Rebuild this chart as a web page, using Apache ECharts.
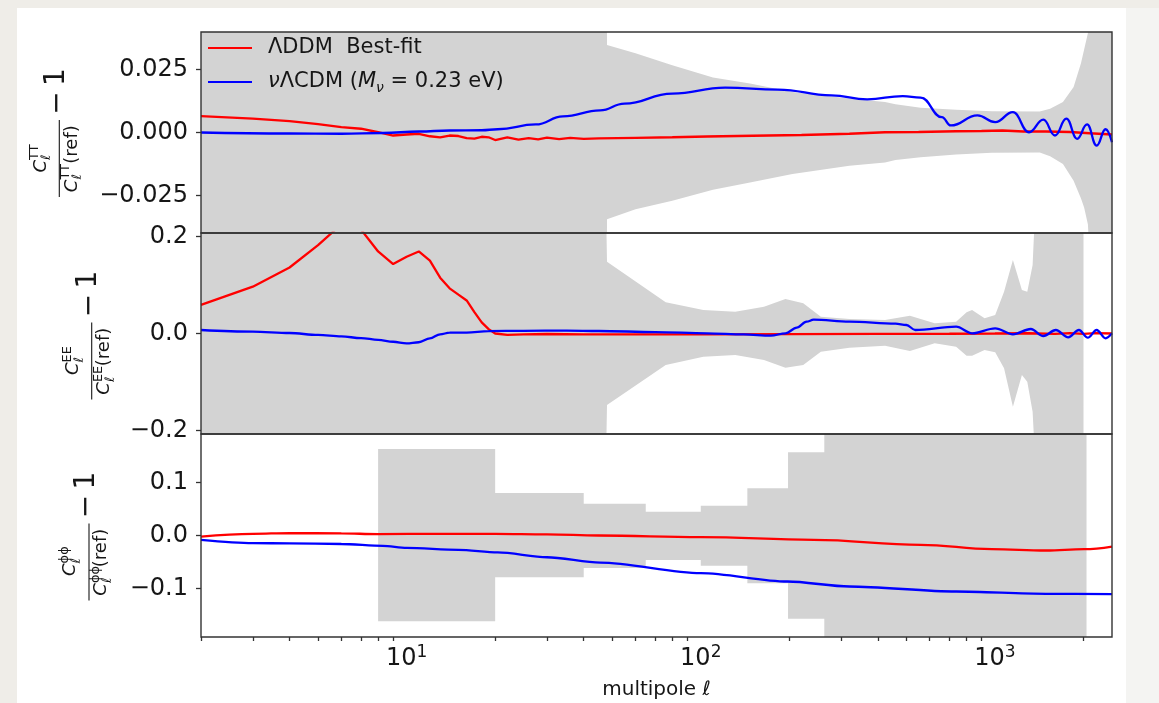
<!DOCTYPE html>
<html>
<head>
<meta charset="utf-8">
<script src="https://cdn.jsdelivr.net/npm/echarts@6/dist/echarts.min.js"></script>
<style>
  html, body { margin: 0; padding: 0; width: 1159px; height: 703px; overflow: hidden; background: #efede8; }
  #side { position: absolute; left: 1126px; top: 8px; width: 33px; height: 695px; background: #f4f4f2; }
  #paper { position: absolute; left: 17px; top: 8px; width: 1109px; height: 695px; background: #fff; }
  #chart { position: absolute; left: 0; top: 0; width: 1159px; height: 703px; }
</style>
</head>
<body>
<div id="side"></div>
<div id="paper"></div>
<div id="chart"></div>
<script>
// ---- data ----
const NAME_A = 'ΛDDM  Best-fit';
const NAME_B = 'νΛCDM (Mν = 0.23 eV)';

// TT panel
const ttBandEll = [2, 47.5, 48, 60, 80, 110, 147, 205, 320, 423, 459, 559, 738, 975, 1420, 1540, 1703, 1851, 1960, 2010, 2070, 2150, 2500];
const ttBandUp = [0.2, 0.2, 0.0348, 0.0315, 0.0268, 0.0219, 0.0195, 0.0161, 0.0135, 0.0121, 0.0112, 0.0099, 0.0091, 0.0085, 0.0084, 0.0095, 0.0121, 0.0181, 0.0275, 0.033, 0.0395, 0.07, 0.2];
const ttBandLo = [-0.2, -0.2, -0.0345, -0.0305, -0.0272, -0.0228, -0.0199, -0.0165, -0.0132, -0.0119, -0.0109, -0.0099, -0.0088, -0.0081, -0.0080, -0.0095, -0.0125, -0.0192, -0.0262, -0.0299, -0.0365, -0.07, -0.2];
const ttRedEll = [2, 3, 4, 5, 6, 7, 8, 9, 10, 11, 12, 13, 14, 15, 16, 17, 18, 19, 20, 22, 24, 26, 28, 30, 33, 36, 40, 45, 60, 80, 105, 150, 220, 320, 423, 550, 738, 900, 1061, 1250, 1490, 1800, 2100, 2500];
const ttRedVal = [0.0065, 0.0055, 0.0045, 0.0033, 0.0021, 0.0015, 0.0001, -0.0012, -0.0008, -0.0005, -0.0015, -0.0019, -0.0012, -0.0014, -0.0022, -0.0024, -0.0017, -0.0019, -0.0030, -0.0019, -0.0028, -0.0022, -0.0027, -0.0020, -0.0026, -0.0021, -0.0025, -0.0023, -0.0021, -0.0019, -0.0016, -0.0013, -0.0010, -0.0005, 0.0001, 0.0002, 0.0005, 0.0006, 0.0008, 0.0004, 0.0004, 0.0002, -0.0003, -0.0008];
const ttBlueEll = [2, 4, 6, 8.3, 11, 14, 18, 20.4, 27.5, 34, 45.5, 55, 80, 121, 183, 278, 368, 486, 559, 660, 708, 872, 1002, 1151, 1306, 1461, 1600, 1749, 1903, 2057, 2217, 2377, 2500];
const ttBlueVal = [0.0, -0.0004, -0.0005, -0.0002, 0.0004, 0.0008, 0.0009, 0.0013, 0.0032, 0.0064, 0.0088, 0.0115, 0.0155, 0.0179, 0.0171, 0.0148, 0.0132, 0.0145, 0.0139, 0.0061, 0.0028, 0.0068, 0.0041, 0.0081, 0.0001, 0.0051, -0.0012, 0.0055, -0.0025, 0.0032, -0.0052, 0.0013, -0.0039];

// EE panel
const eeBandEll = [2, 47.5, 48, 76, 102, 131, 164, 194, 223, 256, 320, 423, 514, 624, 738, 801, 836, 922, 1002, 1074, 1151, 1235, 1288, 1343, 1380, 2000];
const eeBandUp = [0.3, 0.3, 0.148, 0.0643, 0.0485, 0.045, 0.0553, 0.0711, 0.0623, 0.0346, 0.0299, 0.0278, 0.0367, 0.021, 0.0243, 0.0437, 0.0485, 0.0313, 0.0381, 0.0862, 0.1516, 0.0897, 0.0862, 0.1412, 0.3, 0.3];
const eeBandLo = [-0.3, -0.3, -0.1474, -0.065, -0.0478, -0.0443, -0.0546, -0.0705, -0.065, -0.0375, -0.0293, -0.0252, -0.0361, -0.0202, -0.0272, -0.0458, -0.0458, -0.034, -0.0388, -0.0718, -0.151, -0.0856, -0.0994, -0.161, -0.3, -0.3];
const eeRedEll = [2, 3, 4, 5, 6, 7, 8, 9, 10, 11, 12, 13, 14, 15, 16, 17, 18, 19, 20, 22, 25, 30, 40, 60, 100, 200, 400, 700, 1000, 1300, 1600, 1800, 2000, 2200, 2500];
const eeRedVal = [0.0588, 0.0965, 0.136, 0.182, 0.225, 0.214, 0.169, 0.143, 0.158, 0.169, 0.150, 0.115, 0.093, 0.080, 0.068, 0.044, 0.023, 0.009, 0.0, -0.003, -0.002, -0.001, -0.002, -0.0017, -0.0017, -0.0012, -0.0008, -0.0005, 0.0, 0.0005, -0.0008, 0.0008, -0.0008, 0.0008, 0.0];
const eeBlueEll = [2, 3, 4, 5, 6, 7, 8, 9, 10, 11, 12, 13, 14, 16, 19, 25, 35, 45, 70, 105, 140, 173, 194, 212, 229, 242, 320, 459, 500, 536, 738, 836, 1002, 1151, 1324, 1461, 1610, 1775, 1930, 2069, 2217, 2377, 2500];
const eeBlueVal = [0.0072, 0.0038, 0.001, -0.003, -0.006, -0.0095, -0.013, -0.017, -0.0202, -0.018, -0.010, -0.0017, 0.0017, 0.002, 0.005, 0.0055, 0.006, 0.0052, 0.003, 0.0004, -0.002, -0.0045, 0.0004, 0.012, 0.0243, 0.0285, 0.0243, 0.0202, 0.0175, 0.0072, 0.014, 0.0004, 0.0107, -0.0017, 0.0093, -0.0052, 0.0072, -0.0078, 0.0072, -0.0087, 0.0072, -0.0099, 0.0004];

// phi-phi panel (binned band)
const ppBinLo = [8, 20, 40, 65, 100, 144, 198, 263];
const ppBinHi = [20, 40, 65, 100, 144, 198, 263, 2048];
const ppBinUp = [0.163, 0.080, 0.060, 0.045, 0.056, 0.089, 0.157, 0.5];
const ppBinDown = [-0.162, -0.079, -0.0615, -0.046, -0.057, -0.090, -0.157, -0.5];
const ppRedEll = [2, 3, 4, 6, 8, 13, 20, 30, 45, 100, 242, 559, 975, 1490, 2010, 2500];
const ppRedVal = [-0.002, 0.0032, 0.0045, 0.004, 0.0026, 0.0032, 0.003, 0.002, 0.0, -0.003, -0.0081, -0.0175, -0.0257, -0.0283, -0.0257, -0.0208];
const ppBlueEll = [2, 3, 4, 6, 8.3, 10, 15, 20.4, 30, 45.5, 100, 197, 320, 738, 1490, 2500];
const ppBlueVal = [-0.0081, -0.0143, -0.015, -0.016, -0.0194, -0.0235, -0.027, -0.032, -0.041, -0.051, -0.071, -0.0868, -0.0962, -0.1057, -0.110, -0.1106];

// ticks
const xMajor = [10, 100, 1000];
const xMajorExp = ['1', '2', '3'];
const xMinor = [2, 3, 4, 5, 6, 7, 8, 9, 20, 30, 40, 50, 60, 70, 80, 90, 200, 300, 400, 500, 600, 700, 800, 900, 2000];
const ttTicks = [-0.025, 0, 0.025];
const ttTickText = ['−0.025', '0.000', '0.025'];
const eeTicks = [-0.2, 0, 0.2];
const eeTickText = ['−0.2', '0.0', '0.2'];
const ppTicks = [-0.1, 0, 0.1];
const ppTickText = ['−0.1', '0.0', '0.1'];

// ---- chart ----
const FONT = 'DejaVu Sans';
const INK = '#161616';
const BAND = '#d3d3d3';
const RED = '#ff0000';
const BLUE = '#0000ff';

const chart = echarts.init(document.getElementById('chart'), null, { renderer: 'canvas' });

const pairs = (xs, ys) => xs.map((x, i) => [x, ys[i]]);
const pick = (vals, texts) => v => {
  let best = 0;
  vals.forEach((t, i) => { if (Math.abs(t - v) < Math.abs(vals[best] - v)) best = i; });
  return texts[best];
};

function bandSeries(idx, ells, ups, los) {
  return {
    type: 'custom', name: 'band' + idx, xAxisIndex: idx, yAxisIndex: idx,
    silent: true, z: 1, data: [[ells[0], 0]],
    renderItem: function (params, api) {
      const pts = [];
      for (let i = 0; i < ells.length; i++) pts.push(api.coord([ells[i], ups[i]]));
      for (let i = ells.length - 1; i >= 0; i--) pts.push(api.coord([ells[i], los[i]]));
      const cs = params.coordSys;
      return {
        type: 'polygon', shape: { points: pts }, style: { fill: BAND },
        clipPath: { type: 'rect', shape: { x: cs.x, y: cs.y, width: cs.width, height: cs.height } }
      };
    }
  };
}

function stepBandSeries(idx, lo, hi, ups, downs) {
  return {
    type: 'custom', name: 'bins', xAxisIndex: idx, yAxisIndex: idx,
    silent: true, z: 1, data: [[lo[0], 0]],
    renderItem: function (params, api) {
      const pts = [];
      for (let i = 0; i < lo.length; i++) {
        pts.push(api.coord([lo[i], ups[i]]));
        pts.push(api.coord([hi[i], ups[i]]));
      }
      for (let i = lo.length - 1; i >= 0; i--) {
        pts.push(api.coord([hi[i], downs[i]]));
        pts.push(api.coord([lo[i], downs[i]]));
      }
      const cs = params.coordSys;
      return {
        type: 'polygon', shape: { points: pts }, style: { fill: BAND },
        clipPath: { type: 'rect', shape: { x: cs.x, y: cs.y, width: cs.width, height: cs.height } }
      };
    }
  };
}

function lineSeries(name, idx, color, data, smooth) {
  return {
    type: 'line', name: name, xAxisIndex: idx, yAxisIndex: idx, data: data,
    symbol: 'none', smooth: smooth, smoothMonotone: smooth ? 'x' : undefined,
    clip: true, z: 3, color: color,
    lineStyle: { color: color, width: 2.3 }
  };
}

const gridBase = { left: 201, width: 911, show: true, borderColor: '#333', borderWidth: 1.4, backgroundColor: 'transparent', z: 10 };
const tickLine = { color: '#333', width: 1.3 };
const xBase = { type: 'log', logBase: 10, min: 2, max: 2500, position: 'bottom', splitLine: { show: false }, axisLine: { show: false } };

function yAxisFor(idx, min, max, ticks, texts) {
  return {
    gridIndex: idx, type: 'value', min: min, max: max,
    axisLine: { show: false }, splitLine: { show: false },
    axisTick: { show: true, customValues: ticks, length: 5, lineStyle: tickLine },
    axisLabel: { customValues: ticks, margin: 13, fontSize: 24, fontFamily: FONT, color: INK, formatter: pick(ticks, texts) }
  };
}

function fracLabel(cx, cy, sup) {
  const t = (x, y, text, size, italic) => ({
    type: 'text', x: x, y: y,
    style: { text: text, fontSize: size, fontFamily: FONT, fontStyle: italic ? 'italic' : 'normal', fill: INK,
      align: 'left', verticalAlign: 'middle', textAlign: 'left', textVerticalAlign: 'middle' }
  });
  return {
    type: 'group', x: cx, y: cy, rotation: Math.PI / 2, z: 100,
    children: [
      { type: 'line', shape: { x1: -38.5, y1: 0, x2: 38.5, y2: 0 }, style: { stroke: INK, lineWidth: 1.1 } },
      t(-14, -18.2, 'C', 18, true),
      t(-1.4, -24.5, sup, 13, false),
      t(-1.4, -12.5, 'ℓ', 13, true),
      t(-33.7, 12.8, 'C', 18, true),
      t(-21.1, 6.5, sup, 13, false),
      t(-21.1, 18.5, 'ℓ', 13, true),
      t(-5.2, 12.8, '(ref)', 18, false),
      t(43.8, -2, '−', 28, false),
      t(72.4, -2.5, '1', 28, false)
    ]
  };
}

const legendRich = {
  a0: { fontFamily: FONT, fontSize: 21, lineHeight: 24, color: INK, padding: [0, 0, 0, 11] },
  a: { fontFamily: FONT, fontSize: 21, lineHeight: 24, color: INK },
  i0: { fontFamily: FONT, fontSize: 21, lineHeight: 24, color: INK, fontStyle: 'italic', padding: [0, 0, 0, 11] },
  i: { fontFamily: FONT, fontSize: 21, lineHeight: 24, color: INK, fontStyle: 'italic' },
  sub: { fontFamily: FONT, fontSize: 14, lineHeight: 14, color: INK, fontStyle: 'italic', padding: [12, 0, 0, 0] }
};
const legendBase = {
  orient: 'vertical', left: 208, padding: 0, itemWidth: 44, itemHeight: 14,
  icon: 'path://M0,0H44V2H0Z', itemStyle: { borderWidth: 0 }, selectedMode: false,
  textStyle: { fontFamily: FONT, fontSize: 21, lineHeight: 24, color: INK, rich: legendRich }
};

const option = {
  animation: false,
  grid: [
    Object.assign({ top: 32, height: 201 }, gridBase),
    Object.assign({ top: 233, height: 201 }, gridBase),
    Object.assign({ top: 434, height: 203 }, gridBase)
  ],
  legend: [
    Object.assign({}, legendBase, { top: 36, data: [NAME_A], formatter: () => '{a0|ΛDDM  Best-fit}' }),
    Object.assign({}, legendBase, { top: 69, data: [NAME_B], formatter: () => '{i0|ν}{a|ΛCDM (}{i|M}{sub|ν}{a| = 0.23 eV)}' })
  ],
  xAxis: [
    Object.assign({ gridIndex: 0, axisTick: { show: false }, axisLabel: { show: false } }, xBase),
    Object.assign({ gridIndex: 1, axisTick: { show: false }, axisLabel: { show: false } }, xBase),
    Object.assign({
      gridIndex: 2,
      axisTick: { show: true, customValues: xMajor, length: 7, lineStyle: tickLine },
      axisLabel: {
        customValues: xMajor, margin: 9, color: INK, fontFamily: FONT,
        formatter: v => '{b|10}{s|' + pick(xMajor, xMajorExp)(v) + '}',
        rich: {
          b: { fontSize: 24, fontFamily: FONT, color: INK, lineHeight: 26 },
          s: { fontSize: 17, fontFamily: FONT, color: INK, lineHeight: 17, padding: [0, 0, 13, 0] }
        }
      },
      name: 'multipole {l|ℓ}', nameLocation: 'middle', nameGap: 43,
      nameTextStyle: {
        fontSize: 20, fontFamily: FONT, color: INK,
        rich: { l: { fontSize: 20, fontFamily: FONT, color: INK, fontStyle: 'italic' } }
      }
    }, xBase),
    Object.assign({
      gridIndex: 2,
      axisTick: { show: true, customValues: xMinor, length: 4, lineStyle: tickLine },
      axisLabel: { show: false }
    }, xBase)
  ],
  yAxis: [
    yAxisFor(0, -0.04, 0.04, ttTicks, ttTickText),
    yAxisFor(1, -0.207, 0.207, eeTicks, eeTickText),
    yAxisFor(2, -0.1915, 0.1915, ppTicks, ppTickText)
  ],
  series: [
    bandSeries(0, ttBandEll, ttBandUp, ttBandLo),
    bandSeries(1, eeBandEll, eeBandUp, eeBandLo),
    stepBandSeries(2, ppBinLo, ppBinHi, ppBinUp, ppBinDown),
    lineSeries(NAME_A, 0, RED, pairs(ttRedEll, ttRedVal), false),
    lineSeries(NAME_B, 0, BLUE, pairs(ttBlueEll, ttBlueVal), 0.45),
    lineSeries(NAME_A, 1, RED, pairs(eeRedEll, eeRedVal), false),
    lineSeries(NAME_B, 1, BLUE, pairs(eeBlueEll, eeBlueVal), 0.35),
    lineSeries(NAME_A, 2, RED, pairs(ppRedEll, ppRedVal), 0.4),
    lineSeries(NAME_B, 2, BLUE, pairs(ppBlueEll, ppBlueVal), 0.3)
  ],
  graphic: [
    fracLabel(59.3, 158.5, 'TT'),
    fracLabel(91.7, 361, 'EE'),
    fracLabel(89, 562, 'ϕϕ')
  ]
};

chart.setOption(option);
</script>
</body>
</html>
